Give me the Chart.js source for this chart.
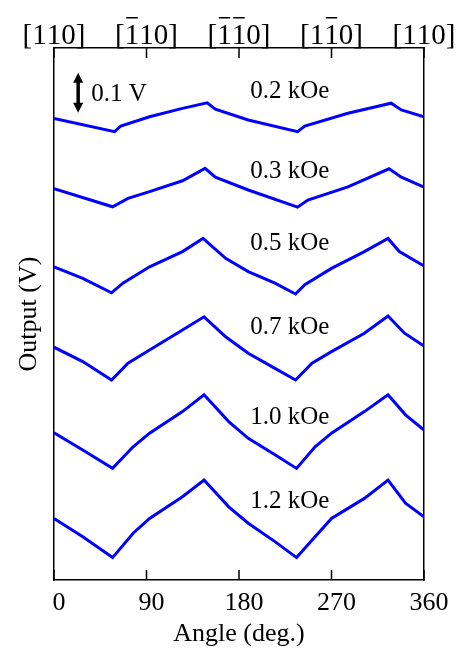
<!DOCTYPE html>
<html>
<head>
<meta charset="utf-8">
<script src="https://cdn.jsdelivr.net/npm/chart.js@4/dist/chart.umd.min.js"></script>
<style>
  html, body { margin: 0; padding: 0; background: #fff; }
</style>
</head>
<body>
<canvas id="chart" width="464" height="655"></canvas>
<script>
"use strict";

// Values: angle (deg.) and output (V, curves offset vertically)
const fields = ["0.2 kOe", "0.3 kOe", "0.5 kOe", "0.7 kOe", "1.0 kOe", "1.2 kOe"];

const angles02 = [0, 59, 65, 93, 125, 149, 157, 189, 237, 244, 286, 328, 338, 360];
const output02 = [1.154, 1.121, 1.135, 1.158, 1.179, 1.193, 1.177, 1.150, 1.121, 1.135, 1.167, 1.192, 1.175, 1.158];

const angles03 = [0, 57, 72, 93, 125, 147, 157, 189, 237, 247, 286, 326, 338, 360];
const output03 = [0.978, 0.933, 0.954, 0.971, 0.998, 1.029, 1.007, 0.975, 0.932, 0.950, 0.983, 1.028, 1.007, 0.982];

const angles05 = [0, 28, 56, 67, 93, 125, 145, 167, 189, 215, 235, 244, 270, 302, 325, 336, 360];
const output05 = [0.783, 0.754, 0.718, 0.742, 0.783, 0.821, 0.854, 0.804, 0.771, 0.742, 0.715, 0.738, 0.779, 0.821, 0.854, 0.821, 0.785];

const angles07 = [0, 28, 56, 72, 93, 125, 146, 167, 189, 215, 235, 251, 270, 302, 325, 341, 360];
const output07 = [0.582, 0.546, 0.500, 0.542, 0.575, 0.625, 0.658, 0.608, 0.567, 0.529, 0.500, 0.542, 0.571, 0.617, 0.660, 0.617, 0.585];

const angles10 = [0, 28, 57, 77, 93, 125, 146, 170, 189, 215, 236, 254, 270, 302, 325, 342, 360];
const output10 = [0.368, 0.325, 0.279, 0.333, 0.367, 0.421, 0.463, 0.396, 0.354, 0.313, 0.279, 0.333, 0.367, 0.421, 0.463, 0.413, 0.375];

const angles12 = [0, 28, 57, 77, 93, 125, 146, 170, 189, 215, 236, 254, 270, 302, 325, 342, 360];
const output12 = [0.154, 0.108, 0.056, 0.117, 0.154, 0.208, 0.250, 0.183, 0.142, 0.096, 0.056, 0.108, 0.154, 0.204, 0.250, 0.192, 0.158];

const xTicks = [0, 90, 180, 270, 360];
// "-" puts a bar over the next digit
const topLabels = ["[110]", "[-110]", "[-1-10]", "[1-10]", "[110]"];
const scaleBar = 0.1; // V
const scaleBarText = "0.1 V";

const SERIF = "'Liberation Serif', 'Times New Roman', serif";
const BLUE = "rgb(0, 0, 255)";

const series = [
    [angles02, output02],
    [angles03, output03],
    [angles05, output05],
    [angles07, output07],
    [angles10, output10],
    [angles12, output12]
];

const datasets = series.map(([ang, out], i) => ({
    label: fields[i],
    data: ang.map((a, k) => ({ x: a, y: out[k] })),
    borderColor: BLUE,
    borderWidth: 3,
    pointRadius: 0,
    tension: 0,
    fill: false
}));

// where the field labels sit (data coords)
const labelAngle = 191;
const labelLevels = [1.225, 1.025, 0.843, 0.633, 0.41, 0.2];

const decor = {
    id: "decor",
    afterDraw(chart) {
        const { ctx, chartArea: a, scales: { x, y } } = chart;
        ctx.save();

        // inward tick marks, top and bottom
        ctx.strokeStyle = "#000";
        ctx.lineWidth = 1.5;
        xTicks.forEach(v => {
            const px = x.getPixelForValue(v);
            ctx.beginPath();
            ctx.moveTo(px, a.bottom);
            ctx.lineTo(px, a.bottom - 10);
            ctx.moveTo(px, a.top);
            ctx.lineTo(px, a.top + 10);
            ctx.stroke();
        });

        // crystal direction labels on top
        ctx.fillStyle = "#000";
        ctx.font = "29px " + SERIF;
        ctx.textAlign = "left";
        ctx.textBaseline = "alphabetic";
        topLabels.forEach((lab, i) => {
            const chars = [];
            let bar = false;
            for (const c of lab) {
                if (c === "-") { bar = true; continue; }
                chars.push({ c, bar });
                bar = false;
            }
            const total = chars.reduce((s, o) => s + ctx.measureText(o.c).width, 0);
            let cx = x.getPixelForValue(xTicks[i]) - total / 2;
            chars.forEach(o => {
                const w = ctx.measureText(o.c).width;
                ctx.fillText(o.c, cx, 44);
                if (o.bar) ctx.fillRect(cx + 1.5, 17, w - 3, 1.5);
                cx += w;
            });
        });

        // field labels
        ctx.font = "25px " + SERIF;
        ctx.textBaseline = "middle";
        fields.forEach((f, i) => {
            ctx.fillText(f, x.getPixelForValue(labelAngle), y.getPixelForValue(labelLevels[i]) + 1);
        });

        // 0.1 V scale arrow
        const ax = x.getPixelForValue(23.5);
        const yTop = y.getPixelForValue(1.268);
        const yBot = y.getPixelForValue(1.268 - scaleBar);
        const head = 10;
        ctx.lineWidth = 3.5;
        ctx.beginPath();
        ctx.moveTo(ax, yTop + head - 1);
        ctx.lineTo(ax, yBot - head + 1);
        ctx.stroke();
        ctx.beginPath();
        ctx.moveTo(ax, yTop);
        ctx.lineTo(ax - 5, yTop + head);
        ctx.lineTo(ax + 5, yTop + head);
        ctx.closePath();
        ctx.moveTo(ax, yBot);
        ctx.lineTo(ax - 5, yBot - head);
        ctx.lineTo(ax + 5, yBot - head);
        ctx.closePath();
        ctx.fill();
        ctx.fillText(scaleBarText, ax + 13, (yTop + yBot) / 2 + 2);

        ctx.restore();
    }
};

const border = { display: true, color: "#000", width: 1.5 };
const noGrid = { display: true, drawOnChartArea: false, drawTicks: false };

new Chart(document.getElementById("chart"), {
    type: "line",
    data: { datasets },
    options: {
        responsive: false,
        animation: false,
        devicePixelRatio: 1,
        layout: { padding: 0 },
        plugins: { legend: { display: false }, tooltip: { enabled: false } },
        scales: {
            x: {
                type: "linear",
                position: "bottom",
                min: 0,
                max: 360,
                afterBuildTicks: s => { s.ticks = xTicks.map(v => ({ value: v })); },
                ticks: { color: "#000", font: { family: SERIF, size: 26 }, padding: 8, labelOffset: 5, maxRotation: 0 },
                grid: noGrid,
                border,
                title: { display: true, text: "Angle (deg.)", color: "#000", font: { family: SERIF, size: 26 }, padding: { top: 0, bottom: 5 } },
                afterFit: s => { s.height = 75; }
            },
            x2: {
                type: "linear",
                axis: "x",
                position: "top",
                min: 0,
                max: 360,
                ticks: { display: false },
                grid: noGrid,
                border,
                afterFit: s => { s.height = 48; }
            },
            y: {
                type: "linear",
                position: "left",
                min: 0,
                max: 1.33,
                ticks: { display: false },
                grid: noGrid,
                border,
                title: { display: true, text: "Output (V)", color: "#000", font: { family: SERIF, size: 26 }, padding: { top: 14, bottom: 0 } },
                afterFit: s => { s.width = 54; }
            },
            y2: {
                type: "linear",
                axis: "y",
                position: "right",
                min: 0,
                max: 1.33,
                ticks: { display: false },
                grid: noGrid,
                border,
                afterFit: s => { s.width = 40; }
            }
        }
    },
    plugins: [decor]
});
</script>
</body>
</html>
